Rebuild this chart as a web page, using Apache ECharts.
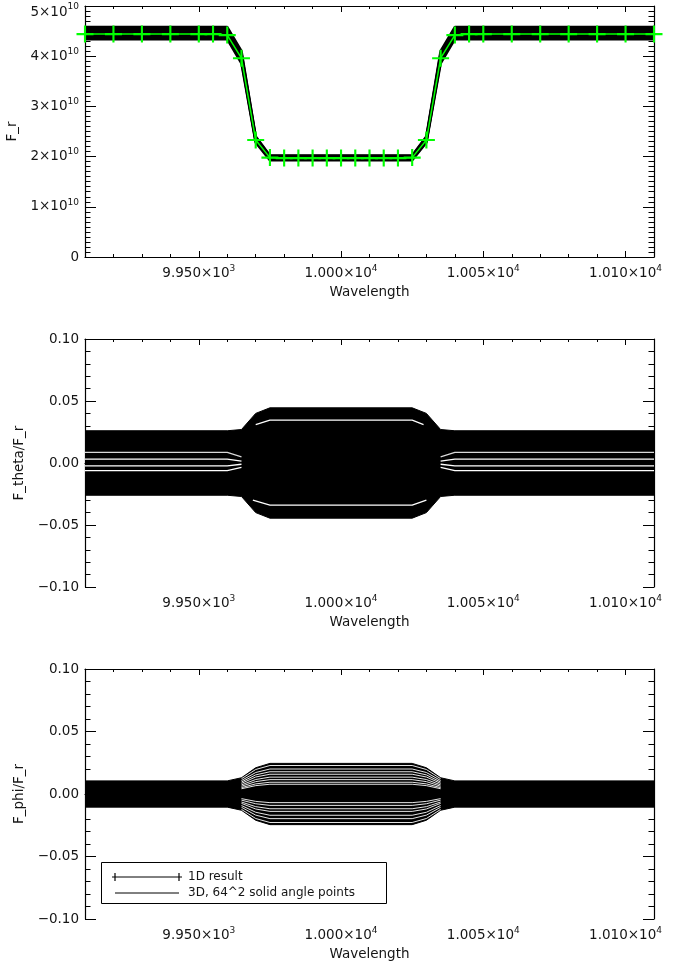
<!DOCTYPE html>
<html><head><meta charset="utf-8">
<script src="https://cdn.jsdelivr.net/npm/echarts@6/dist/echarts.min.js"></script>
<style>html,body{margin:0;padding:0;background:#fff}#c{width:682px;height:964px}</style>
</head><body><div id="c"></div>
<script>
// ---------- tick labels ----------
const xTicks = [9950, 10000, 10050, 10100];
const xTickLabels = ['9.950×10{e|3}', '1.000×10{e|4}', '1.005×10{e|4}', '1.010×10{e|4}'];
const frTicks = [0, 1e10, 2e10, 3e10, 4e10, 5e10];
const frTickLabels = ['0', '1×10{e|10}', '2×10{e|10}', '3×10{e|10}', '4×10{e|10}', '{dn|5×10}{edn|10}'];
const ratioTicks = [-0.1, -0.05, 0, 0.05, 0.1];
const ratioTickLabels = ['−0.10', '−0.05', '0.00', '0.05', '0.10'];

// ---------- panel 1: F_r ----------
const wl1D = [9910, 9920, 9930, 9940, 9950, 9955, 9960, 9965, 9970, 9975, 9980, 9985, 9990, 9995, 10000,
  10005, 10010, 10015, 10020, 10025, 10030, 10035, 10040, 10045, 10050, 10060, 10070, 10080, 10090, 10100, 10110];
const fr1D = [4.44e10, 4.44e10, 4.44e10, 4.44e10, 4.44e10, 4.44e10, 4.42e10, 3.96e10, 2.33e10, 1.98e10,
  1.97e10, 1.97e10, 1.97e10, 1.97e10, 1.97e10, 1.97e10, 1.97e10, 1.97e10, 1.97e10, 1.98e10,
  2.33e10, 3.96e10, 4.42e10, 4.44e10, 4.44e10, 4.44e10, 4.44e10, 4.44e10, 4.44e10, 4.44e10, 4.44e10];

const wl3D = [9910, 9960, 9965, 9970, 9975, 10025, 10030, 10035, 10040, 10110];
const fr3D_1 = [4.58e10, 4.58e10, 4.10e10, 2.40e10, 2.02e10, 2.02e10, 2.40e10, 4.10e10, 4.58e10, 4.58e10];
const fr3D_2 = [4.54e10, 4.54e10, 4.06e10, 2.38e10, 2.01e10, 2.01e10, 2.38e10, 4.06e10, 4.54e10, 4.54e10];
const fr3D_3 = [4.50e10, 4.50e10, 4.02e10, 2.36e10, 2.00e10, 2.00e10, 2.36e10, 4.02e10, 4.50e10, 4.50e10];
const fr3D_4 = [4.46e10, 4.46e10, 3.98e10, 2.34e10, 1.98e10, 1.98e10, 2.34e10, 3.98e10, 4.46e10, 4.46e10];
const fr3D_5 = [4.42e10, 4.42e10, 3.94e10, 2.32e10, 1.97e10, 1.97e10, 2.32e10, 3.94e10, 4.42e10, 4.42e10];
const fr3D_6 = [4.38e10, 4.38e10, 3.90e10, 2.30e10, 1.95e10, 1.95e10, 2.30e10, 3.90e10, 4.38e10, 4.38e10];
const fr3D_7 = [4.34e10, 4.34e10, 3.86e10, 2.28e10, 1.93e10, 1.93e10, 2.28e10, 3.86e10, 4.34e10, 4.34e10];

// ---------- panel 2: F_theta/F_r (3D envelope + gaps) ----------
const thetaUpper = [0.026, 0.026, 0.027, 0.040, 0.0445, 0.0445, 0.040, 0.027, 0.026, 0.026];
const thetaLower = [-0.026, -0.026, -0.027, -0.040, -0.0445, -0.0445, -0.040, -0.027, -0.026, -0.026];
const wlGapFlat = [9910, 9960, 9965, 10000, 10035, 10040, 10110];
const thetaGap_1 = [0.0086, 0.0086, 0.0050, null, 0.0050, 0.0086, 0.0086];
const thetaGap_2 = [0.0031, 0.0031, 0.0015, null, 0.0015, 0.0031, 0.0031];
const thetaGap_3 = [-0.0023, -0.0023, -0.0010, null, -0.0010, -0.0023, -0.0023];
const thetaGap_4 = [-0.0062, -0.0062, -0.0035, null, -0.0035, -0.0062, -0.0062];
const wlGapTop = [9970, 9975, 10025, 10029];
const thetaGapTop = [0.031, 0.0345, 0.0345, 0.031];
const wlGapBottom = [9969, 9975, 10025, 10030];
const thetaGapBottom = [-0.030, -0.034, -0.034, -0.030];

// ---------- panel 3: F_phi/F_r ----------
const phiUpper = [0.0105, 0.0105, 0.013, 0.021, 0.0245, 0.0245, 0.021, 0.013, 0.0105, 0.0105];
const phiLower = [-0.0105, -0.0105, -0.013, -0.021, -0.0245, -0.0245, -0.021, -0.013, -0.0105, -0.0105];
const wlPhiGap = [9965, 9970, 9975, 10025, 10030, 10035];
const phiGaps = [
  [0.0122, 0.0196, 0.0228, 0.0228, 0.0196, 0.0122],
  [0.0108, 0.0172, 0.0200, 0.0200, 0.0172, 0.0108],
  [0.0096, 0.0153, 0.0178, 0.0178, 0.0153, 0.0096],
  [0.0085, 0.0136, 0.0158, 0.0158, 0.0136, 0.0085],
  [0.0073, 0.0116, 0.0135, 0.0135, 0.0116, 0.0073],
  [0.0062, 0.0099, 0.0115, 0.0115, 0.0099, 0.0062],
  [0.0051, 0.0081, 0.0094, 0.0094, 0.0081, 0.0051],
  [0.0042, 0.0067, 0.0078, 0.0078, 0.0067, 0.0042],
  [-0.0037, -0.0059, -0.0069, -0.0069, -0.0059, -0.0037],
  [-0.0049, -0.0078, -0.0091, -0.0091, -0.0078, -0.0049],
  [-0.0064, -0.0101, -0.0118, -0.0118, -0.0101, -0.0064],
  [-0.0075, -0.0120, -0.0139, -0.0139, -0.0120, -0.0075],
  [-0.0092, -0.0146, -0.0170, -0.0170, -0.0146, -0.0092],
  [-0.0106, -0.0169, -0.0197, -0.0197, -0.0169, -0.0106],
  [-0.0123, -0.0196, -0.0228, -0.0228, -0.0196, -0.0123]
];

// ---------- styling / layout ----------
const FONT = 'DejaVu Sans';
const TXT = '#151515';
const FS = 13.5;
const grids = [
  {left: 85, width: 569, top: 6, height: 251},
  {left: 85, width: 569, top: 339, height: 248},
  {left: 85, width: 569, top: 669, height: 250}
];
const yNames = ['F_r', 'F_theta/F_r', 'F_phi/F_r'];
const rich = {
  e: {fontSize: 9, fontFamily: FONT, color: TXT, padding: [0, 0, 9, 0]},
  dn: {fontSize: FS, fontFamily: FONT, color: TXT, padding: [12, 0, 0, 0]},
  edn: {fontSize: 9, fontFamily: FONT, color: TXT, padding: [5, 0, 4, 0]}
};

function pairs(xs, ys) { return xs.map((x, i) => [x, ys[i]]); }

const xAxis = [], yAxis = [];
grids.forEach((g, p) => {
  const lineStyle = {color: '#000', width: 1.2};
  const base = {type: 'value', gridIndex: p, min: 9910, max: 10110, splitLine: {show: false}};
  xAxis.push(Object.assign({}, base, {
    position: 'bottom', axisLine: {show: true, lineStyle},
    axisTick: {show: true, inside: true, length: 6, customValues: xTicks, lineStyle: {color: '#000', width: 1}},
    axisLabel: {show: true, customValues: xTicks, margin: 7, color: TXT, fontFamily: FONT, fontSize: FS,
      formatter: v => xTickLabels[xTicks.indexOf(v)] || '', rich},
    name: 'Wavelength', nameLocation: 'middle', nameGap: 28,
    nameTextStyle: {color: TXT, fontFamily: FONT, fontSize: FS}
  }));
  xAxis.push(Object.assign({}, base, {
    position: 'bottom', interval: 10, axisLine: {show: false},
    axisTick: {show: true, inside: true, length: 3, lineStyle: {color: '#000', width: 1}},
    axisLabel: {show: false}
  }));
  xAxis.push(Object.assign({}, base, {
    position: 'top', axisLine: {show: true, lineStyle},
    axisTick: {show: true, inside: true, length: 6, customValues: xTicks, lineStyle: {color: '#000', width: 1}},
    axisLabel: {show: false}
  }));
  xAxis.push(Object.assign({}, base, {
    position: 'top', interval: 10, axisLine: {show: false},
    axisTick: {show: true, inside: true, length: 3, lineStyle: {color: '#000', width: 1}},
    axisLabel: {show: false}
  }));

  const isFr = p === 0;
  const ybase = {
    type: 'value', gridIndex: p,
    min: isFr ? 0 : -0.1, max: isFr ? 5e10 : 0.1, interval: isFr ? 1e10 : 0.05,
    splitLine: {show: false}, minorSplitLine: {show: false},
    axisLine: {show: true, lineStyle},
    axisTick: {show: true, inside: true, length: 11, lineStyle: {color: '#000', width: 1}},
    minorTick: {show: true, splitNumber: isFr ? 10 : 5, length: 5.5, lineStyle: {color: '#000', width: 1}}
  };
  yAxis.push(Object.assign({}, ybase, {
    position: 'left',
    axisLabel: {show: true, margin: 6, color: TXT, fontFamily: FONT, fontSize: FS, rich,
      formatter: v => {
        if (isFr) { const i = frTicks.findIndex(t => Math.abs(t - v) < 1e6); return i >= 0 ? frTickLabels[i] : ''; }
        const i = ratioTicks.findIndex(t => Math.abs(t - v) < 1e-9); return i >= 0 ? ratioTickLabels[i] : '';
      }},
    name: yNames[p], nameLocation: 'middle', nameRotate: 90, nameGap: 58,
    nameTextStyle: {color: TXT, fontFamily: FONT, fontSize: FS}
  }));
  yAxis.push(Object.assign({}, ybase, {position: 'right', axisLabel: {show: false}}));
});

const series = [];
function line(p, data, color, width, extra) {
  series.push(Object.assign({
    type: 'line', xAxisIndex: 4 * p, yAxisIndex: 2 * p, data, symbol: 'none', silent: true,
    animation: false, connectNulls: false,
    lineStyle: {color, width}, itemStyle: {color}
  }, extra || {}));
}

// panel 1
[fr3D_1, fr3D_2, fr3D_3, fr3D_4, fr3D_5, fr3D_6, fr3D_7].forEach(arr => line(0, pairs(wl3D, arr), '#000', 2.6));
line(0, pairs(wl1D, fr1D), '#00ff00', 1.5, {
  symbol: 'path://M14,0h4v32h-4z M0,14h32v4h-32z', symbolSize: 17, showSymbol: true, showAllSymbol: true,
  itemStyle: {color: '#00ff00'}, z: 5
});

// panel 2
line(1, pairs(wl3D, thetaUpper), '#000', 1, {areaStyle: {color: '#000', opacity: 1, origin: 'auto'}});
line(1, pairs(wl3D, thetaLower), '#000', 1, {areaStyle: {color: '#000', opacity: 1, origin: 'auto'}});
[thetaGap_1, thetaGap_2, thetaGap_3, thetaGap_4].forEach((arr, i) =>
  line(1, pairs(wlGapFlat, arr), i === 0 ? '#d8d8d8' : '#ffffff', 1.3, {z: 4}));
line(1, pairs(wlGapTop, thetaGapTop), '#ffffff', 1.3, {z: 4});
line(1, pairs(wlGapBottom, thetaGapBottom), '#ffffff', 1.3, {z: 4});

// panel 3
line(2, pairs(wl3D, phiUpper), '#000', 1, {areaStyle: {color: '#000', opacity: 1, origin: 'auto'}});
line(2, pairs(wl3D, phiLower), '#000', 1, {areaStyle: {color: '#000', opacity: 1, origin: 'auto'}});
phiGaps.forEach(arr => line(2, pairs(wlPhiGap, arr), '#ffffff', 0.9, {z: 4}));

// legend (IDL-style box)
const legendItems = ['1D result', '3D, 64^2 solid angle points'];
const graphic = [
  {type: 'rect', shape: {x: 101.5, y: 862.5, width: 285, height: 41}, style: {fill: '#fff', stroke: '#000', lineWidth: 1}, z: 100},
  {type: 'line', shape: {x1: 112, y1: 877, x2: 182, y2: 877}, style: {stroke: '#000', lineWidth: 1}, z: 101},
  {type: 'line', shape: {x1: 115, y1: 873, x2: 115, y2: 881}, style: {stroke: '#000', lineWidth: 1.2}, z: 101},
  {type: 'line', shape: {x1: 179, y1: 873, x2: 179, y2: 881}, style: {stroke: '#000', lineWidth: 1.2}, z: 101},
  {type: 'line', shape: {x1: 115, y1: 893, x2: 179, y2: 893}, style: {stroke: '#000', lineWidth: 1}, z: 101},
  {type: 'text', x: 188, y: 877, style: {text: legendItems[0], fill: TXT, font: '12px "DejaVu Sans"', textVerticalAlign: 'middle'}, z: 101},
  {type: 'text', x: 188, y: 893, style: {text: legendItems[1], fill: TXT, font: '12px "DejaVu Sans"', textVerticalAlign: 'middle'}, z: 101}
];

const chart = echarts.init(document.getElementById('c'), null, {renderer: 'canvas'});
chart.setOption({
  animation: false,
  backgroundColor: '#fff',
  grid: grids.map(g => Object.assign({containLabel: false, outerBoundsMode: 'none'}, g)),
  xAxis, yAxis, series, graphic
});
</script>
</body></html>
